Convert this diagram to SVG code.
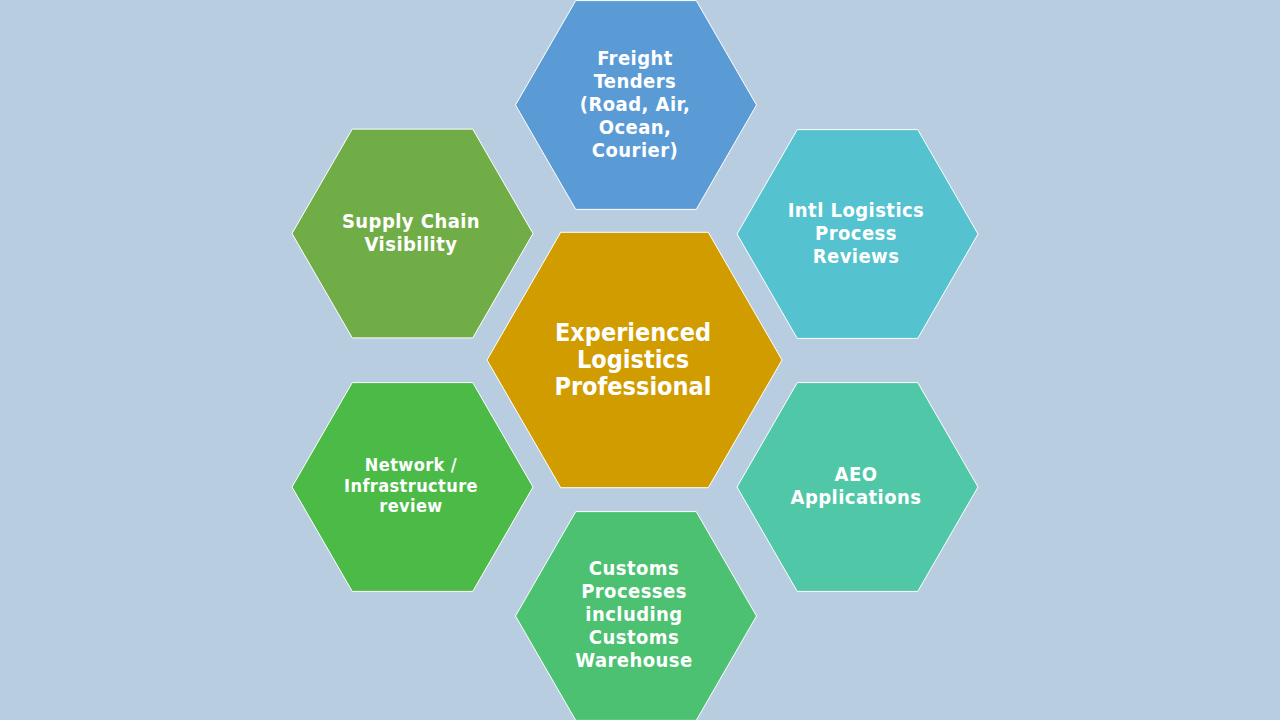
<svg xmlns="http://www.w3.org/2000/svg" width="1280" height="720" viewBox="0 0 1280 720">
<style>
.hex{stroke:#FFFFFF;stroke-width:1}
.t{font-family:"DejaVu Sans Condensed","DejaVu Sans","Liberation Sans",sans-serif;font-weight:bold;fill:#FFFFFF;text-anchor:middle}
.s20{font-size:20px;letter-spacing:0.45px}
.s18{font-size:18px;letter-spacing:0.4px}
.s24{font-size:25px}
</style>
<defs>
<polygon id="h" points="-120.5,0 -60.25,-104.4 60.25,-104.4 120.5,0 60.25,104.4 -60.25,104.4"/>
</defs>
<rect width="1280" height="720" fill="#B8CEE0"/>
<g id="connectors"/>
<g id="freight">
<use href="#h" x="636" y="105" class="hex" fill="#5B9BD5"/>
<text class="t s20"><tspan x="635" y="65">Freight</tspan><tspan x="635" y="88">Tenders</tspan><tspan x="635" y="111">(Road, Air,</tspan><tspan x="635" y="134">Ocean,</tspan><tspan x="635" y="157">Courier)</tspan></text>
</g>
<g id="supply">
<use href="#h" x="412.5" y="233.5" class="hex" fill="#70AD47"/>
<text class="t s20"><tspan x="411" y="228">Supply Chain</tspan><tspan x="411" y="251">Visibility</tspan></text>
</g>
<g id="intl">
<use href="#h" x="857.5" y="234" class="hex" fill="#55C2CF"/>
<text class="t s20"><tspan x="856" y="217">Intl Logistics</tspan><tspan x="856" y="240">Process</tspan><tspan x="856" y="263">Reviews</tspan></text>
</g>
<g id="center">
<polygon points="487,360 560.75,232.3 708.25,232.3 782,360 708.25,487.7 560.75,487.7" class="hex" fill="#D09C00"/>
<text class="t s24"><tspan x="633" y="341">Experienced</tspan><tspan x="633" y="368">Logistics</tspan><tspan x="633" y="395">Professional</tspan></text>
</g>
<g id="network">
<use href="#h" x="412.5" y="487" class="hex" fill="#4BBA47"/>
<text class="t s18"><tspan x="411" y="471">Network /</tspan><tspan x="411" y="492">Infrastructure</tspan><tspan x="411" y="512">review</tspan></text>
</g>
<g id="aeo">
<use href="#h" x="857.5" y="487" class="hex" fill="#50C7A7"/>
<text class="t s20"><tspan x="856" y="481">AEO</tspan><tspan x="856" y="504">Applications</tspan></text>
</g>
<g id="customs">
<use href="#h" x="636" y="616" class="hex" fill="#4CC172"/>
<text class="t s20"><tspan x="634" y="575">Customs</tspan><tspan x="634" y="598">Processes</tspan><tspan x="634" y="621">including</tspan><tspan x="634" y="644">Customs</tspan><tspan x="634" y="667">Warehouse</tspan></text>
</g>
</svg>
